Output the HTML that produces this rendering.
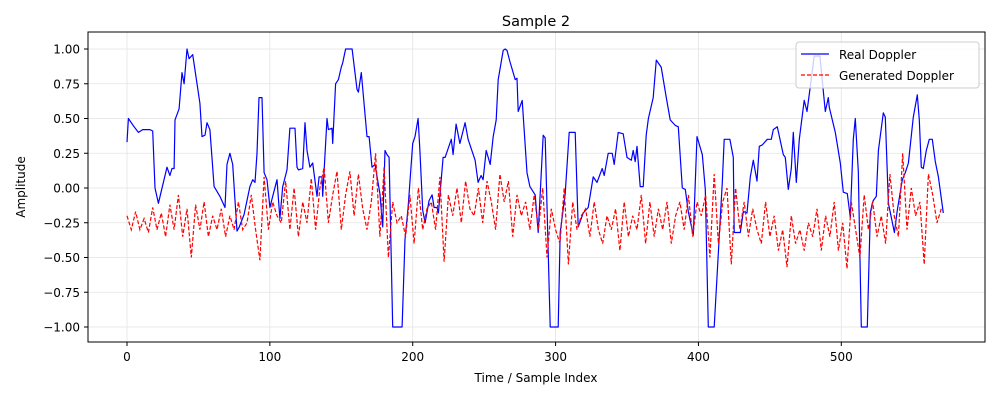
<!DOCTYPE html>
<html><head><meta charset="utf-8"><style>
body{margin:0;background:#fff;font-family:"Liberation Sans","DejaVu Sans",sans-serif;}
svg text{font-family:"DejaVu Sans","Liberation Sans",sans-serif;}
</style></head><body>
<svg id="chart" width="1000" height="400" viewBox="0 0 1000 400" xmlns="http://www.w3.org/2000/svg">
<rect width="1000" height="400" fill="#fff"/>
<text x="536" y="26" font-size="14.5" text-anchor="middle">Sample 2</text>
<g id="grid"></g><g id="ticks"></g>
<clipPath id="clip"><rect x="88" y="32" width="897" height="310"/></clipPath>
<g id="series" clip-path="url(#clip)"></g>
<rect x="88" y="32" width="897" height="310" fill="none" stroke="#000" stroke-width="1"/>
<text x="536" y="382" font-size="12" text-anchor="middle">Time / Sample Index</text>
<text x="25" y="187" font-size="12" text-anchor="middle" transform="rotate(-90 25 187)">Amplitude</text>
<g>
<rect x="796" y="42" width="183" height="46" rx="3" fill="#fff" fill-opacity="0.8" stroke="#ccc"/>
<g><line x1="801" y1="54" x2="829" y2="54" stroke="#0000ff" stroke-width="1.2"/><text x="839" y="59" font-size="12">Real Doppler</text></g>
<g><line x1="801" y1="75" x2="829" y2="75" stroke="#ff0000" stroke-width="1.2" stroke-dasharray="4,2"/><text x="839" y="80" font-size="12">Generated Doppler</text></g>
</g>
</svg>
<script>
const xTicks=[0,100,200,300,400,500];
const yTicks=[-1.0,-0.75,-0.5,-0.25,0.0,0.25,0.5,0.75,1.0];
const realIdx=[0,1,5,8,11,16,18,19.6,22,28,30,31.5,33,33.6,36.5,38.5,40,42,43.5,46,51,52.5,54.6,56,58,61,65,68.6,70,72,74,75.6,77,78.6,82,86,88,89.6,91,92.4,94.5,96,98,100,102,105,107,109,112,114,117.6,119,120,123,124.6,126,128,130,133,134.5,136.5,137,140,141,143.5,144,146,148,150,151,153,157.6,161,162,164,168,169.5,171.5,173.6,177,179,180.6,182,183.5,186,192.6,194.6,196.8,200,201.6,203.8,205,207,208.7,211.5,213.6,215,217,218,221.3,222.7,227,228.3,230.4,233,236.7,238.8,243.7,245.8,247.9,249.3,251.4,254.2,256.3,258.4,259.8,263.3,264.7,266,268,271.7,273,273.8,276.6,280,282,285.7,287.8,291.3,292.7,296.2,301.8,303.2,306.7,309.5,313.7,315.8,319.3,322.8,326.3,329,332.6,334,336.8,339.6,341,343.8,347.3,350,353,354.3,355.7,357,359.2,361.3,363.4,365,368.3,370.5,373.9,377.5,380.2,383.8,385.9,388.7,390.8,392.9,396.4,399,402.7,404.8,406.9,411,416.7,418,422,424.4,425,429.3,431.4,434,436.3,438.4,441,442.6,444.7,448.2,451,452.4,455.2,459.4,460.8,462.9,465,466.4,468.5,470.6,474,476,478.3,481,485,488.8,490.9,491.6,495.8,499.3,501.4,504.2,506.3,508.4,509.8,511.9,514,518.2,520.3,521.7,522.4,524.5,526,529.4,530.8,533,537.2,539.2,542.7,544.8,547,550.4,553.2,554.6,556,557.4,559.5,561.6,563.7,565.8,568,571.4];
const realVal=[0.33,0.50,0.44,0.40,0.42,0.42,0.41,0.0,-0.11,0.15,0.09,0.14,0.14,0.49,0.57,0.83,0.75,1.0,0.93,0.96,0.61,0.37,0.38,0.47,0.42,0.01,-0.06,-0.14,0.17,0.25,0.17,-0.09,-0.31,-0.28,-0.19,0.01,0.06,0.04,0.25,0.65,0.65,0.11,0.06,-0.14,-0.06,0.06,-0.22,0.01,0.13,0.43,0.43,0.15,0.13,0.14,0.47,0.27,0.15,0.18,-0.06,0.08,0.08,-0.06,0.50,0.42,0.43,0.32,0.75,0.78,0.87,0.90,1.0,1.0,0.71,0.69,0.83,0.37,0.37,0.15,0.17,-0.04,-0.28,0.27,0.24,0.22,-1.0,-1.0,-0.37,-0.14,0.32,0.37,0.50,0.27,-0.16,-0.25,-0.09,-0.05,-0.14,-0.14,-0.18,0.22,0.22,0.35,0.24,0.46,0.32,0.47,0.35,0.20,0.04,0.09,0.06,0.27,0.17,0.37,0.49,0.78,0.99,1.0,0.99,0.91,0.78,0.79,0.55,0.63,0.11,0.01,-0.05,-0.32,0.38,0.36,-1.0,-1.0,-0.32,-0.04,0.40,0.40,-0.28,-0.18,-0.14,0.08,0.04,0.14,0.09,0.25,0.25,0.17,0.40,0.39,0.22,0.20,0.27,0.19,0.30,0.01,0.01,0.38,0.50,0.65,0.92,0.87,0.65,0.49,0.45,0.44,0.0,-0.01,-0.17,-0.34,0.37,0.24,-0.01,-1.0,-1.0,0.04,0.35,0.35,0.22,-0.32,-0.32,-0.17,-0.18,0.08,0.20,0.05,0.30,0.31,0.35,0.35,0.42,0.44,0.24,0.22,-0.01,0.14,0.40,0.04,0.35,0.63,0.55,0.73,0.95,0.95,0.55,0.65,0.58,0.40,0.18,-0.03,-0.04,-0.21,0.35,0.50,0.12,-1.0,-1.0,-0.18,-0.11,-0.09,-0.06,0.27,0.54,0.51,-0.11,-0.32,-0.16,0.06,0.11,0.18,0.51,0.67,0.49,0.15,0.14,0.27,0.35,0.35,0.19,0.08,-0.18];
const genStep=3;
const genVal=[-0.2,-0.3,-0.17,-0.3,-0.22,-0.32,-0.14,-0.3,-0.18,-0.35,-0.12,
-0.3,-0.05,-0.35,-0.15,-0.5,-0.12,-0.3,-0.1,-0.35,-0.2,
-0.3,-0.15,-0.35,-0.2,-0.3,-0.1,-0.3,-0.25,-0.05,-0.3,
-0.52,0.08,-0.3,-0.1,-0.2,-0.25,0.05,-0.3,0.0,-0.35,
-0.1,-0.25,0.07,-0.3,0.0,0.15,-0.25,-0.05,0.12,-0.3,
-0.05,0.12,-0.2,0.1,-0.15,-0.3,-0.1,0.25,-0.35,0.15,
-0.5,-0.1,-0.25,-0.2,-0.35,-0.05,-0.4,0.0,-0.3,-0.15,
-0.1,-0.3,0.08,-0.53,-0.05,-0.2,0.0,-0.25,0.05,-0.15,
-0.2,0.0,-0.25,0.05,-0.1,-0.3,0.1,-0.1,0.05,-0.35,
-0.05,-0.2,-0.1,-0.3,-0.05,-0.3,0.0,-0.5,-0.15,-0.3,
-0.4,0.0,-0.55,-0.1,-0.3,-0.2,-0.15,-0.35,-0.1,-0.3,
-0.4,-0.2,-0.3,-0.15,-0.45,-0.1,-0.35,-0.2,-0.3,-0.05,
-0.4,-0.1,-0.35,-0.15,-0.3,-0.1,-0.4,-0.2,-0.1,-0.3,
-0.05,-0.35,-0.1,-0.2,-0.05,-0.5,0.1,-0.4,-0.1,0.0,
-0.55,0.0,-0.3,-0.1,-0.35,-0.15,-0.3,-0.4,-0.1,-0.35,
-0.2,-0.45,-0.3,-0.57,-0.2,-0.4,-0.3,-0.45,-0.25,-0.35,
-0.15,-0.45,-0.2,-0.35,-0.1,-0.45,-0.25,-0.58,-0.1,-0.3,
-0.5,-0.05,-0.3,-0.1,-0.35,-0.2,-0.4,0.1,-0.2,-0.35,
0.25,-0.3,0.0,-0.2,-0.1,-0.55,0.1,-0.05,-0.25,-0.15];

const NS='http://www.w3.org/2000/svg';
function xs(i){return 127+i*(841.3-127)/500;}
function ys(v){return 188-v*139;}
function mk(tag,attrs,parent){const e=document.createElementNS(NS,tag);for(const k in attrs)e.setAttribute(k,attrs[k]);parent.appendChild(e);return e;}
const grid=document.getElementById('grid'),ticks=document.getElementById('ticks'),series=document.getElementById('series');
xTicks.forEach(t=>{
  const g=mk('line',{x1:xs(t),x2:xs(t),y1:32,y2:342,stroke:'#e3e3e3','stroke-width':0.8},grid);
  
  
  const tk=mk('line',{x1:xs(t),x2:xs(t),y1:342,y2:346,stroke:'#000'},ticks);
  
  
  const l=mk('text',{x:xs(t),y:361,'font-size':12,'text-anchor':'middle'},ticks);l.textContent=t;
  
  
});
yTicks.forEach(t=>{
  const g=mk('line',{x1:88,x2:985,y1:ys(t),y2:ys(t),stroke:'#e3e3e3','stroke-width':0.8},grid);
  
  
  const tk=mk('line',{x1:84,x2:88,y1:ys(t),y2:ys(t),stroke:'#000'},ticks);
  
  
  const l=mk('text',{x:80,y:ys(t)+4.5,'font-size':12,'text-anchor':'end'},ticks);l.textContent=t.toFixed(2).replace('-','\u2212');
  
  
});
const rp=realIdx.map((i,k)=>xs(i).toFixed(1)+','+ys(realVal[k]).toFixed(1)).join(' ');
const real=mk('polyline',{points:rp,fill:'none',stroke:'#0000ff','stroke-width':1.2,'stroke-linejoin':'round'},series);


const gp=genVal.map((v,k)=>xs(k*genStep).toFixed(1)+','+ys(v).toFixed(1)).join(' ');
const gen=mk('polyline',{points:gp,fill:'none',stroke:'#ff0000','stroke-width':1.2,'stroke-dasharray':'4,2'},series);


</script>
</body></html>
